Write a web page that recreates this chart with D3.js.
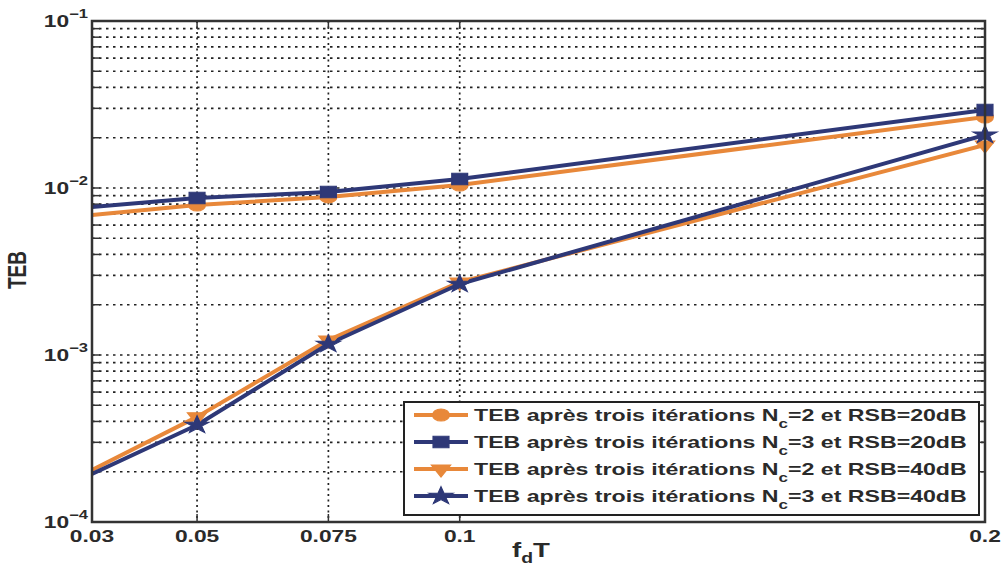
<!DOCTYPE html>
<html>
<head>
<meta charset="utf-8">
<script src="https://cdn.jsdelivr.net/npm/d3@7"></script>
<style>
  body { margin: 0; background: #fff; }
  svg { display: block; }
  text { font-family: "Liberation Sans", Arial, sans-serif; font-weight: bold; fill: #2a2a2a; }
</style>
</head>
<body>
<svg id="chart" width="1002" height="571"></svg>
<script>
// Normalised Doppler spread f_d·T and bit error rate after three iterations
const fdT = [0.03, 0.05, 0.075, 0.1, 0.2];
const tebNc2Rsb20 = [0.00689, 0.00791, 0.00884, 0.01042, 0.0266];
const tebNc3Rsb20 = [0.00769, 0.00871, 0.00946, 0.01132, 0.0293];
const tebNc2Rsb40 = [0.000205, 0.000426, 0.00123, 0.00273, 0.0181];
const tebNc3Rsb40 = [0.000194, 0.000381, 0.001164, 0.00266, 0.0208];

const xTickValues = [0.03, 0.05, 0.075, 0.1, 0.2];
const xTickLabels = ["0.03", "0.05", "0.075", "0.1", "0.2"];
const yDecades = [-4, -3, -2, -1];

const legendPrefix = "TEB après trois itérations N";
const legendSub = "c";
const legendSuffixes = ["=2 et RSB=20dB", "=3 et RSB=20dB", "=2 et RSB=40dB", "=3 et RSB=40dB"];

const ORANGE = "#E8883A";
const NAVY = "#2E3877";
const SX = 1.38;      // horizontal stretch of glyphs and markers
const SX_LEG = 1.42;  // stretch used for the legend entries

const series = [
  { values: tebNc2Rsb20, color: ORANGE, symbol: d3.symbolCircle, size: 115, rot: 0 },
  { values: tebNc3Rsb20, color: NAVY, symbol: d3.symbolSquare, size: 130, rot: 0 },
  { values: tebNc2Rsb40, color: ORANGE, symbol: d3.symbolTriangle, size: 85, rot: 180 },
  { values: tebNc3Rsb40, color: NAVY, symbol: d3.symbolStar, size: 95, rot: 0 }
];

const svg = d3.select("#chart");
const plot = { left: 92, right: 985, top: 21, bottom: 522 };

const x = d3.scaleLinear().domain([0.03, 0.2]).range([plot.left, plot.right]);
const y = d3.scaleLog().domain([1e-4, 1e-1]).range([plot.bottom, plot.top]);

// helper: text drawn through a horizontally stretched frame
function sText(parent, px, py, anchor, size, sx = SX) {
  return parent.append("g")
    .attr("transform", `translate(${px},${py}) scale(${sx},1)`)
    .append("text")
    .attr("text-anchor", anchor)
    .attr("font-size", size);
}

svg.append("defs").append("clipPath").attr("id", "plotClip")
  .append("rect")
  .attr("x", plot.left).attr("y", plot.top)
  .attr("width", plot.right - plot.left).attr("height", plot.bottom - plot.top);

// grid: every log tick (majors and minors) plus inner x ticks
const yGridVals = [];
yDecades.slice(0, 3).forEach(e => {
  for (let m = 1; m <= 9; m++) yGridVals.push(m * Math.pow(10, e));
});
const grid = svg.append("g");
grid.selectAll("line.gy").data(yGridVals.filter(v => v > 1e-4)).join("line")
  .attr("x1", plot.left).attr("x2", plot.right)
  .attr("y1", d => y(d)).attr("y2", d => y(d))
  .attr("stroke", "#222").attr("stroke-width", 1.7)
  .attr("stroke-dasharray", "2.5,4.5");
grid.selectAll("line.gx").data(xTickValues.slice(1, -1)).join("line")
  .attr("x1", d => x(d)).attr("x2", d => x(d))
  .attr("y1", plot.top).attr("y2", plot.bottom)
  .attr("stroke", "#222").attr("stroke-width", 1.7)
  .attr("stroke-dasharray", "2,3.5");

// ticks (inward, on all four sides)
const ticks = svg.append("g").attr("stroke", "#333").attr("stroke-width", 1.5);
yGridVals.forEach(v => {
  const len = 8;
  ticks.append("line").attr("x1", plot.left).attr("x2", plot.left + len).attr("y1", y(v)).attr("y2", y(v));
  ticks.append("line").attr("x1", plot.right).attr("x2", plot.right - len).attr("y1", y(v)).attr("y2", y(v));
});
xTickValues.forEach(v => {
  ticks.append("line").attr("x1", x(v)).attr("x2", x(v)).attr("y1", plot.bottom).attr("y2", plot.bottom - 8);
  ticks.append("line").attr("x1", x(v)).attr("x2", x(v)).attr("y1", plot.top).attr("y2", plot.top + 8);
});

// series lines
const line = d3.line().x((d, i) => x(fdT[i])).y(d => y(d));
const lines = svg.append("g").attr("clip-path", "url(#plotClip)");
series.forEach(s => {
  lines.append("path").datum(s.values)
    .attr("d", line)
    .attr("fill", "none")
    .attr("stroke", s.color)
    .attr("stroke-width", 4)
    .attr("stroke-linejoin", "round");
});

// markers (points strictly inside the x range)
const marks = svg.append("g");
series.forEach(s => {
  const sym = d3.symbol().type(s.symbol).size(s.size);
  s.values.forEach((v, i) => {
    if (fdT[i] <= x.domain()[0]) return;
    marks.append("path")
      .attr("d", sym())
      .attr("transform", `translate(${x(fdT[i])},${y(v)}) scale(${SX},1) rotate(${s.rot})`)
      .attr("fill", s.color)
      .attr("stroke", s.color)
      .attr("stroke-width", 1);
  });
});

// axes box
svg.append("rect")
  .attr("x", plot.left).attr("y", plot.top)
  .attr("width", plot.right - plot.left).attr("height", plot.bottom - plot.top)
  .attr("fill", "none").attr("stroke", "#333").attr("stroke-width", 2.5);

// x tick labels
xTickValues.forEach((v, i) => {
  sText(svg, x(v), 542, "middle", 16.5).text(xTickLabels[i]);
});

// y tick labels 10^e
yDecades.forEach(e => {
  const t = sText(svg, 88, y(Math.pow(10, e)) + 6, "end", 16.5);
  t.append("tspan").text("10");
  t.append("tspan").attr("font-size", 12).attr("dy", -9).text("\u2212" + Math.abs(e));
});

// axis titles
const yl = svg.append("g").attr("transform", `translate(26,270) scale(${SX},1) rotate(-90)`);
yl.append("text").attr("text-anchor", "middle").attr("font-size", 19).text("TEB");

const xl = sText(svg, 531, 557, "middle", 20);
xl.append("tspan").text("f");
xl.append("tspan").attr("font-size", 14).attr("dy", 6).text("d");
xl.append("tspan").attr("dy", -6).text("T");

// legend
const lg = { x: 404, y: 402, w: 575, h: 113 };
const legend = svg.append("g");
legend.append("rect")
  .attr("x", lg.x).attr("y", lg.y).attr("width", lg.w).attr("height", lg.h)
  .attr("fill", "#fff").attr("stroke", "#222").attr("stroke-width", 2);
series.forEach((s, i) => {
  const cy = 415 + i * 27;
  legend.append("line")
    .attr("x1", 414).attr("x2", 468).attr("y1", cy).attr("y2", cy)
    .attr("stroke", s.color).attr("stroke-width", 4);
  legend.append("path")
    .attr("d", d3.symbol().type(s.symbol).size(s.size)())
    .attr("transform", `translate(441,${cy}) scale(${SX},1) rotate(${s.rot})`)
    .attr("fill", s.color).attr("stroke", s.color).attr("stroke-width", 1);
  const t = sText(legend, 474, cy + 6, "start", 16.3, SX_LEG);
  t.append("tspan").text(legendPrefix);
  t.append("tspan").attr("font-size", 12).attr("dy", 7).text(legendSub);
  t.append("tspan").attr("dy", -7).text(legendSuffixes[i]);
});
</script>
</body>
</html>
